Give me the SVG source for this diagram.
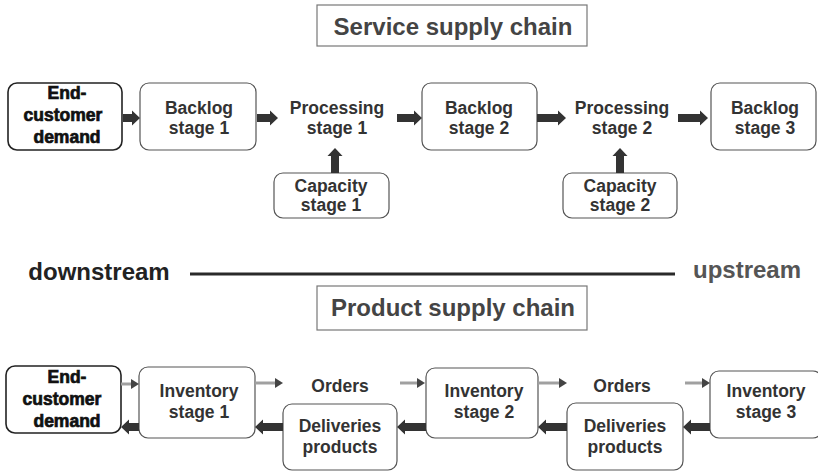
<svg xmlns="http://www.w3.org/2000/svg" width="818" height="471" viewBox="0 0 818 471">
<style>
text{font-family:"Liberation Sans",Arial,sans-serif;font-weight:bold;text-anchor:middle}
.t{font-size:17.5px;fill:#333}
.ec{font-size:17.5px;fill:#111;stroke:#111;stroke-width:0.7}
.title{font-size:24px;fill:#444}
.box{fill:#fff;stroke:#555;stroke-width:1.2}
.ebox{fill:#fff;stroke:#222;stroke-width:1.6}
.tbox{fill:#fff;stroke:#777;stroke-width:1.2}
.dark{fill:#333}
.gshaft{stroke:#a0a0a0;stroke-width:3}
.ghead{fill:#444}
</style>
<rect width="818" height="471" fill="#fff"/>

<g id="title-service">
<rect class="tbox" x="317" y="5" width="270" height="41"/>
<text class="title" x="453" y="35">Service supply chain</text>
</g>

<g id="s-end-customer">
<rect class="ebox" x="8" y="83" width="114" height="67" rx="9"/>
<text class="ec" x="67" y="99">End-</text>
<text class="ec" x="63" y="121">customer</text>
<text class="ec" x="67" y="143">demand</text>
</g>
<g id="s-backlog1">
<rect class="box" x="140" y="83" width="116" height="67" rx="9"/>
<text class="t" x="199" y="114">Backlog</text>
<text class="t" x="199" y="134">stage 1</text>
</g>
<g id="s-processing1">
<text class="t" x="337" y="114">Processing</text>
<text class="t" x="337" y="134">stage 1</text>
</g>
<g id="s-capacity1">
<rect class="box" x="274" y="173" width="115" height="45" rx="9"/>
<text class="t" x="331" y="192">Capacity</text>
<text class="t" x="331" y="211">stage 1</text>
</g>
<g id="s-backlog2">
<rect class="box" x="422" y="83" width="115" height="67" rx="9"/>
<text class="t" x="479" y="114">Backlog</text>
<text class="t" x="479" y="134">stage 2</text>
</g>
<g id="s-processing2">
<text class="t" x="622" y="114">Processing</text>
<text class="t" x="622" y="134">stage 2</text>
</g>
<g id="s-capacity2">
<rect class="box" x="563" y="173" width="114" height="45" rx="9"/>
<text class="t" x="620" y="192">Capacity</text>
<text class="t" x="620" y="211">stage 2</text>
</g>
<g id="s-backlog3">
<rect class="box" x="711" y="83" width="105" height="67" rx="9"/>
<text class="t" x="765" y="114">Backlog</text>
<text class="t" x="765" y="134">stage 3</text>
</g>

<g id="axis">
<text x="99" y="280" style="font-size:24px;fill:#222">downstream</text>
<line x1="190" y1="274" x2="675" y2="274" stroke="#2a2a2a" stroke-width="3"/>
<text x="747" y="278" style="font-size:24px;fill:#555">upstream</text>
</g>

<g id="title-product">
<rect class="tbox" x="317" y="286" width="270" height="44"/>
<text class="title" x="453" y="316">Product supply chain</text>
</g>

<g id="p-end-customer">
<rect class="ebox" x="6" y="366" width="115" height="67" rx="9"/>
<text class="ec" x="67" y="383">End-</text>
<text class="ec" x="62" y="405">customer</text>
<text class="ec" x="67" y="427">demand</text>
</g>
<g id="p-inventory1">
<rect class="box" x="139" y="367" width="116" height="71" rx="9"/>
<text class="t" x="199" y="397">Inventory</text>
<text class="t" x="199" y="418">stage 1</text>
</g>
<g id="p-orders1">
<text class="t" x="340" y="392">Orders</text>
</g>
<g id="p-deliveries1">
<rect class="box" x="283" y="404" width="114" height="66" rx="9"/>
<text class="t" x="340" y="432">Deliveries</text>
<text class="t" x="340" y="453">products</text>
</g>
<g id="p-inventory2">
<rect class="box" x="426" y="368" width="112" height="70" rx="9"/>
<text class="t" x="484" y="397">Inventory</text>
<text class="t" x="484" y="418">stage 2</text>
</g>
<g id="p-orders2">
<text class="t" x="622" y="392">Orders</text>
</g>
<g id="p-deliveries2">
<rect class="box" x="567" y="403" width="116" height="67" rx="9"/>
<text class="t" x="625" y="432">Deliveries</text>
<text class="t" x="625" y="453">products</text>
</g>
<g id="p-inventory3">
<rect class="box" x="710" y="371" width="112" height="67" rx="9"/>
<text class="t" x="766" y="397">Inventory</text>
<text class="t" x="766" y="418">stage 3</text>
</g>

<g id="connectors">
<polygon class="dark" points="123,114 132,114 132,110.5 140,118 132,125.5 132,122 123,122"/>
<polygon class="dark" points="257,114 270,114 270,110.5 278,118 270,125.5 270,122 257,122"/>
<polygon class="dark" points="397,114 414,114 414,110.5 422,118 414,125.5 414,122 397,122"/>
<polygon class="dark" points="537,114 558,114 558,110.5 566,118 558,125.5 558,122 537,122"/>
<polygon class="dark" points="678,114 700,114 700,110.5 708,118 700,125.5 700,122 678,122"/>
<polygon class="dark" points="331,173 331,156 327.5,156 335,148 342.5,156 339,156 339,173"/>
<polygon class="dark" points="616,173 616,156 612.5,156 620,148 627.5,156 624,156 624,173"/>
<line class="gshaft" x1="121" y1="384" x2="132" y2="384"/>
<polygon class="ghead" points="131,379 139,384 131,389"/>
<line class="gshaft" x1="255" y1="383" x2="276" y2="383"/>
<polygon class="ghead" points="275,378 283,383 275,388"/>
<line class="gshaft" x1="400" y1="383" x2="418" y2="383"/>
<polygon class="ghead" points="417,378 425,383 417,388"/>
<line class="gshaft" x1="538" y1="383" x2="560" y2="383"/>
<polygon class="ghead" points="559,378 567,383 559,388"/>
<line class="gshaft" x1="685" y1="383" x2="703" y2="383"/>
<polygon class="ghead" points="702,378 710,383 702,388"/>
<polygon class="dark" points="139,423 129,423 129,419.5 121,427 129,434.5 129,431 139,431"/>
<polygon class="dark" points="283,423 263,423 263,419.5 255,427 263,434.5 263,431 283,431"/>
<polygon class="dark" points="426,423 405,423 405,419.5 397,427 405,434.5 405,431 426,431"/>
<polygon class="dark" points="567,423 546,423 546,419.5 538,427 546,434.5 546,431 567,431"/>
<polygon class="dark" points="710,423 691,423 691,419.5 683,427 691,434.5 691,431 710,431"/>
</g>
</svg>
